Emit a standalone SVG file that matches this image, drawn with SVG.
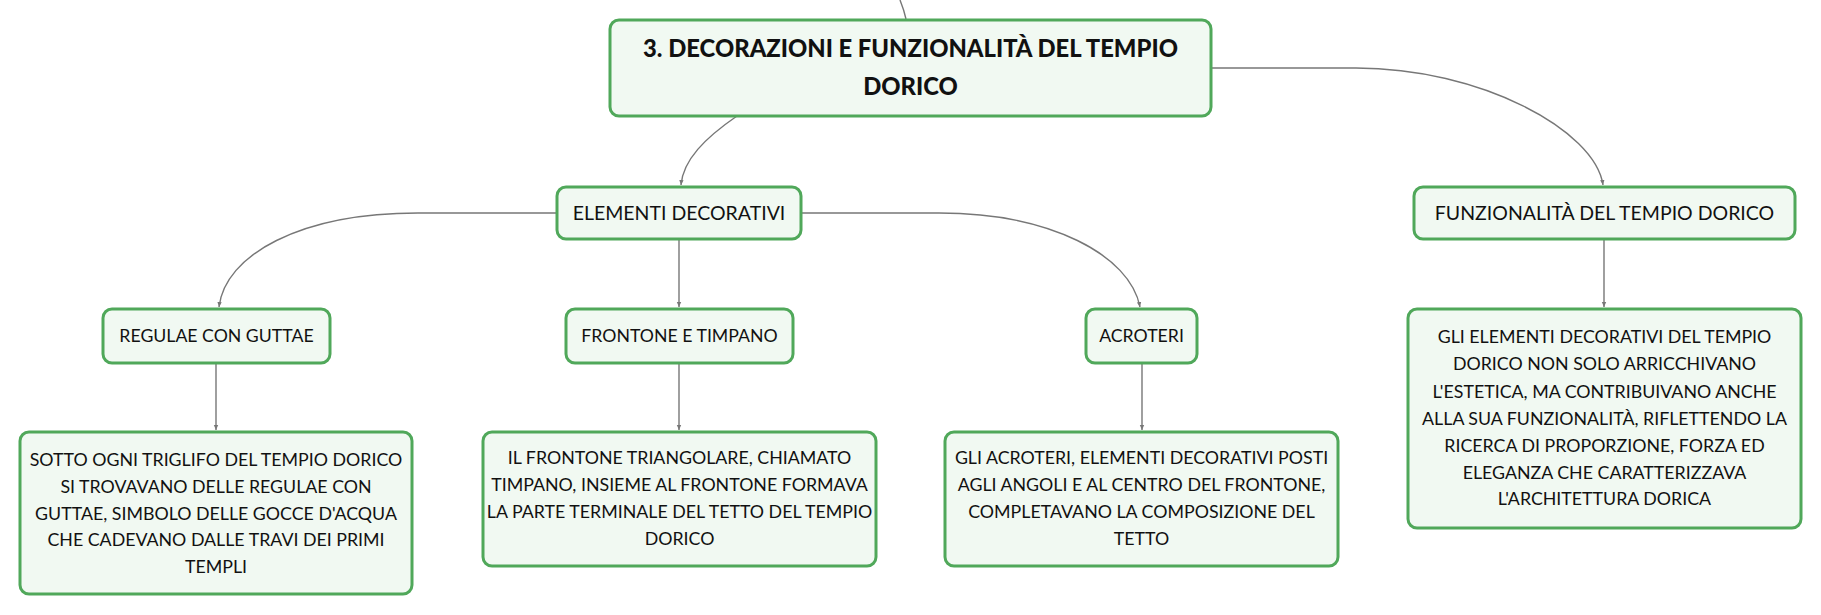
<svg xmlns="http://www.w3.org/2000/svg" width="1821" height="615" viewBox="0 0 1821 615">
<defs>
<marker id="ah" markerWidth="6" markerHeight="6" refX="5" refY="3" orient="auto" markerUnits="userSpaceOnUse">
<path d="M0,0.8 L5,3 L0,5.2 Z" fill="#777"/>
</marker>
<style>
.box{fill:#f1f9f2;stroke:#50a85a;stroke-width:3}
.t{font-family:Lato,"Open Sans","Liberation Sans",sans-serif;font-size:17.8px;fill:#111;text-anchor:middle}
.h{font-size:19.5px}
.s{font-size:17.7px}
.root{font-size:23.8px;font-weight:900}
.c{fill:none;stroke:#777;stroke-width:1.4}
</style>
</defs>
<rect width="1821" height="615" fill="#ffffff"/>
<g id="connectors">
<path class="c" d="M900,0 Q904,10 906,19"/>
<path class="c" d="M737,116 C705,138 683,160 681,185" marker-end="url(#ah)"/>
<path class="c" d="M1211,68 L1356,68 C1480,68 1595,130 1603,185" marker-end="url(#ah)"/>
<path class="c" d="M557,213 L418,213 C300,213 225,255 219,307" marker-end="url(#ah)"/>
<path class="c" d="M679,239 L679,307" marker-end="url(#ah)"/>
<path class="c" d="M801,213 L939,213 C1050,213 1130,255 1140,307" marker-end="url(#ah)"/>
<path class="c" d="M216,364 L216,430" marker-end="url(#ah)"/>
<path class="c" d="M679,362 L679,430" marker-end="url(#ah)"/>
<path class="c" d="M1142,362 L1142,430" marker-end="url(#ah)"/>
<path class="c" d="M1604,239 L1604,307" marker-end="url(#ah)"/>
</g>
<g id="root">
<rect class="box" x="610" y="20" width="601" height="96" rx="9"/>
<text class="t root" x="910.5" y="57">3. DECORAZIONI E FUNZIONALITÀ DEL TEMPIO</text>
<text class="t root" x="910.5" y="94.5">DORICO</text>
</g>
<g id="elementi">
<rect class="box" x="557" y="187" width="244" height="52" rx="9"/>
<text class="t h" x="679" y="220">ELEMENTI DECORATIVI</text>
</g>
<g id="funzionalita">
<rect class="box" x="1414" y="187" width="381" height="52" rx="9"/>
<text class="t h" x="1604.5" y="220">FUNZIONALITÀ DEL TEMPIO DORICO</text>
</g>
<g id="regulae">
<rect class="box" x="103" y="309" width="227" height="54" rx="9"/>
<text class="t s" x="216.5" y="341.5">REGULAE CON GUTTAE</text>
</g>
<g id="frontone">
<rect class="box" x="566" y="309" width="227" height="54" rx="9"/>
<text class="t s" x="679.5" y="341.5">FRONTONE E TIMPANO</text>
</g>
<g id="acroteri">
<rect class="box" x="1086" y="309" width="111" height="54" rx="9"/>
<text class="t s" x="1141.5" y="341.5">ACROTERI</text>
</g>
<g id="regulae-desc">
<rect class="box" x="20" y="432" width="392" height="162" rx="9"/>
<text class="t" x="216" y="465.5">SOTTO OGNI TRIGLIFO DEL TEMPIO DORICO</text>
<text class="t" x="216" y="492.5">SI TROVAVANO DELLE REGULAE CON</text>
<text class="t" x="216" y="519.5">GUTTAE, SIMBOLO DELLE GOCCE D'ACQUA</text>
<text class="t" x="216" y="545.5">CHE CADEVANO DALLE TRAVI DEI PRIMI</text>
<text class="t" x="216" y="572.5">TEMPLI</text>
</g>
<g id="frontone-desc">
<rect class="box" x="483" y="432" width="393" height="134" rx="9"/>
<text class="t" x="679.5" y="463.5">IL FRONTONE TRIANGOLARE, CHIAMATO</text>
<text class="t" x="679.5" y="490.5">TIMPANO, INSIEME AL FRONTONE FORMAVA</text>
<text class="t" x="679.5" y="517.5">LA PARTE TERMINALE DEL TETTO DEL TEMPIO</text>
<text class="t" x="679.5" y="544.5">DORICO</text>
</g>
<g id="acroteri-desc">
<rect class="box" x="945" y="432" width="393" height="134" rx="9"/>
<text class="t" x="1141.5" y="463.5">GLI ACROTERI, ELEMENTI DECORATIVI POSTI</text>
<text class="t" x="1141.5" y="490.5">AGLI ANGOLI E AL CENTRO DEL FRONTONE,</text>
<text class="t" x="1141.5" y="517.5">COMPLETAVANO LA COMPOSIZIONE DEL</text>
<text class="t" x="1141.5" y="544.5">TETTO</text>
</g>
<g id="funzionalita-desc">
<rect class="box" x="1408" y="309" width="393" height="219" rx="9"/>
<text class="t" x="1604.5" y="342.5">GLI ELEMENTI DECORATIVI DEL TEMPIO</text>
<text class="t" x="1604.5" y="369.5">DORICO NON SOLO ARRICCHIVANO</text>
<text class="t" x="1604.5" y="397.5">L'ESTETICA, MA CONTRIBUIVANO ANCHE</text>
<text class="t" x="1604.5" y="424.5">ALLA SUA FUNZIONALITÀ, RIFLETTENDO LA</text>
<text class="t" x="1604.5" y="451.5">RICERCA DI PROPORZIONE, FORZA ED</text>
<text class="t" x="1604.5" y="478.5">ELEGANZA CHE CARATTERIZZAVA</text>
<text class="t" x="1604.5" y="504.5">L'ARCHITETTURA DORICA</text>
</g>
</svg>
